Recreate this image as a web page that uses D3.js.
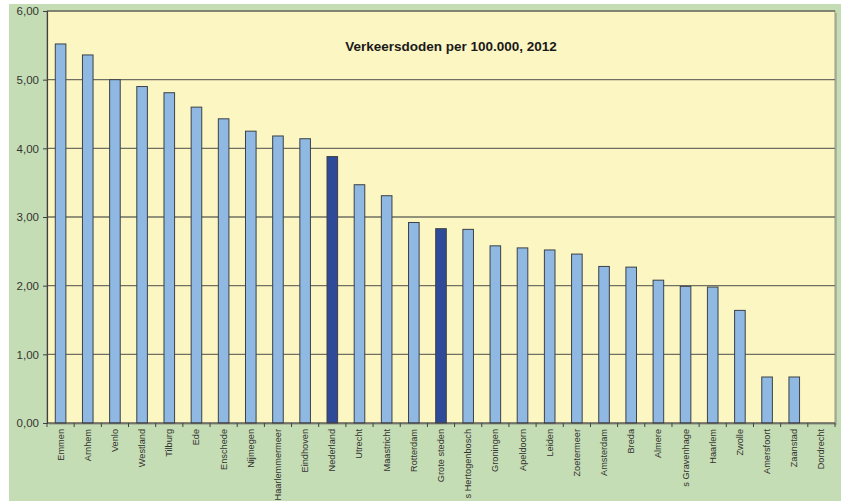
<!DOCTYPE html>
<html><head><meta charset="utf-8">
<script src="https://cdn.jsdelivr.net/npm/d3@7"></script>
<style>body{margin:0;background:#fff}svg{display:block}</style>
</head><body>
<script>
const categories = ["Emmen","Arnhem","Venlo","Westland","Tilburg","Ede","Enschede","Nijmegen","Haarlemmermeer","Eindhoven","Nederland","Utrecht","Maastricht","Rotterdam","Grote steden","s Hertogenbosch","Groningen","Apeldoorn","Leiden","Zoetermeer","Amsterdam","Breda","Almere","s Gravenhage","Haarlem","Zwolle","Amersfoort","Zaanstad","Dordrecht"];
const values = [5.52,5.36,5.00,4.90,4.81,4.60,4.43,4.25,4.18,4.14,3.88,3.47,3.31,2.92,2.83,2.82,2.58,2.55,2.52,2.46,2.28,2.27,2.08,1.99,1.98,1.64,0.67,0.67,0];
const highlighted = ["Nederland","Grote steden"];
const yTicks = [0,1,2,3,4,5,6];
const title = "Verkeersdoden per 100.000, 2012";

const W = 843, H = 502;
const m = {left:47, right:835, top:11, bottom:423};
const svg = d3.select("body").append("svg").attr("width",W).attr("height",H);

svg.append("rect").attr("x",9).attr("y",4).attr("width",832).attr("height",497).attr("fill","#C5DDB4");
// plot shadow
svg.append("rect").attr("x",m.left+2).attr("y",m.top+2).attr("width",m.right-m.left).attr("height",m.bottom-m.top).attr("fill","#a9b89a");
svg.append("rect").attr("x",m.left).attr("y",m.top).attr("width",m.right-m.left).attr("height",m.bottom-m.top).attr("fill","#FCF6C2").attr("stroke","#9a9a88").attr("stroke-width",1);

const x = d3.scaleBand().domain(categories).range([m.left,m.right]).paddingInner(0.61).paddingOuter(0.305);
const y = d3.scaleLinear().domain([0,6]).range([m.bottom,m.top]);

// gridlines
svg.append("g").selectAll("line").data(yTicks.filter(d=>d>0)).join("line")
  .attr("x1",m.left).attr("x2",m.right).attr("y1",d=>y(d)).attr("y2",d=>y(d))
  .attr("stroke","#6f6f62").attr("stroke-width",1.3);

// bars
svg.append("g").selectAll("rect").data(categories.map((c,i)=>({c,v:values[i]}))).join("rect")
  .attr("x",d=>x(d.c)).attr("width",x.bandwidth())
  .attr("y",d=>y(d.v)).attr("height",d=>y(0)-y(d.v))
  .attr("fill",d=>highlighted.includes(d.c)?"#2F4A98":"#8FB8E2")
  .attr("stroke",d=>d.v>0?"#3c4148":"none").attr("stroke-width",1);

// y axis
const ya = svg.append("g").attr("transform",`translate(${m.left},0)`)
  .call(d3.axisLeft(y).tickValues(yTicks).tickSize(4).tickPadding(4).tickFormat(d=>d3.format(".2f")(d).replace(".",",")));
ya.select(".domain").attr("stroke","#404040").attr("stroke-width",1.2);
ya.selectAll(".tick line").attr("stroke","#404040");
ya.selectAll("text").attr("font-family","Liberation Sans, Arial, sans-serif").attr("font-size",11.5).attr("fill","#333");

// x axis
const step = x.step();
const xa = svg.append("g").attr("transform",`translate(0,${m.bottom})`);
xa.append("line").attr("x1",m.left).attr("x2",m.right).attr("stroke","#404040").attr("stroke-width",1.2);
xa.selectAll("line.t").data(d3.range(categories.length+1)).join("line").attr("class","t")
  .attr("x1",i=>m.left+i*step).attr("x2",i=>m.left+i*step).attr("y1",0).attr("y2",4).attr("stroke","#404040");
xa.selectAll("text").data(categories).join("text")
  .attr("transform",d=>`translate(${x(d)+x.bandwidth()/2+3},6) rotate(-90)`)
  .attr("text-anchor","end")
  .attr("font-family","Liberation Sans, Arial, sans-serif").attr("font-size",9.2).attr("fill","#333")
  .text(d=>d);

svg.append("text").attr("x",451).attr("y",51).attr("text-anchor","middle")
  .attr("font-family","Liberation Sans, Arial, sans-serif").attr("font-weight","bold").attr("font-size",13.5).attr("fill","#1a1a1a")
  .text(title);
</script>
</body></html>
